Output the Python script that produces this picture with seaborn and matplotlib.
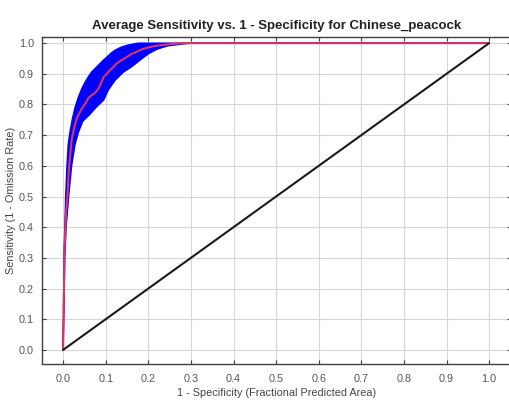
import numpy as np
import pandas as pd
import matplotlib
matplotlib.use("Agg")
import matplotlib.pyplot as plt
import seaborn as sns

# mean ROC curve (red)
mean_fpr = [0.0, 0.002, 0.003, 0.005, 0.007, 0.010, 0.014, 0.020, 0.026, 0.032,
            0.042, 0.052, 0.060, 0.067, 0.075, 0.083, 0.090, 0.095, 0.103, 0.110,
            0.118, 0.126, 0.138, 0.150, 0.161, 0.173, 0.185, 0.200, 0.216, 0.235,
            0.255, 0.270, 0.286, 1.0]
mean_sens = [0.0, 0.20, 0.315, 0.39, 0.45, 0.50, 0.597, 0.684, 0.725, 0.755,
             0.782, 0.803, 0.822, 0.830, 0.838, 0.852, 0.872, 0.890, 0.900, 0.912,
             0.922, 0.934, 0.945, 0.955, 0.965, 0.972, 0.980, 0.986, 0.991, 0.994,
             0.997, 0.999, 1.0, 1.0]

# upper / lower edges of the blue band (mean +/- sd)
upper_fpr = [0.0, 0.002, 0.004, 0.006, 0.009, 0.012, 0.016, 0.022, 0.028, 0.036,
             0.044, 0.052, 0.060, 0.067, 0.077, 0.087, 0.095, 0.103, 0.112, 0.122,
             0.135, 0.150, 0.176, 1.0]
upper_sens = [0.0, 0.30, 0.40, 0.50, 0.60, 0.67, 0.71, 0.755, 0.790, 0.825,
              0.852, 0.874, 0.892, 0.906, 0.920, 0.934, 0.945, 0.955, 0.967, 0.977,
              0.986, 0.993, 1.0, 1.0]
lower_fpr = [0.0, 0.004, 0.007, 0.013, 0.020, 0.028, 0.036, 0.046, 0.063, 0.079,
             0.095, 0.106, 0.122, 0.142, 0.161, 0.181, 0.200, 0.220, 0.245, 0.279,
             0.300, 1.0]
lower_sens = [0.0, 0.30, 0.40, 0.50, 0.60, 0.67, 0.71, 0.745, 0.768, 0.793,
              0.814, 0.847, 0.879, 0.906, 0.923, 0.945, 0.965, 0.980, 0.991, 0.997,
              1.0, 1.0]

# random prediction line
rand_fpr = [0.0, 1.0]
rand_sens = [0.0, 1.0]

ticks = [0.0, 0.1, 0.2, 0.3, 0.4, 0.5, 0.6, 0.7, 0.8, 0.9, 1.0]

sns.set_style("whitegrid")
plt.rcParams['font.family'] = ['Liberation Sans', 'DejaVu Sans']

fig = plt.figure(figsize=(5.09, 4.01), dpi=100)
ax = fig.add_axes([0.083, 0.0923, 0.921, 0.8154])

# blue band
band_x = np.concatenate([upper_fpr, lower_fpr[::-1]])
band_y = np.concatenate([upper_sens, lower_sens[::-1]])
ax.fill(band_x, band_y, color='#0000ff', lw=1.0, edgecolor='#0000ff', zorder=2)

mean_df = pd.DataFrame({'fpr': mean_fpr, 'sens': mean_sens})
rand_df = pd.DataFrame({'fpr': rand_fpr, 'sens': rand_sens})
sns.lineplot(data=mean_df, x='fpr', y='sens', sort=False, estimator=None,
             color='#dc3562', lw=1.5, ax=ax, zorder=3)
sns.lineplot(data=rand_df, x='fpr', y='sens', sort=False, estimator=None,
             color='#1a1a1a', lw=1.5, ax=ax, zorder=3)

ax.set_xlim(-0.049, 1.0515)
ax.set_ylim(-0.046, 1.02)
ax.set_xticks(ticks)
ax.set_yticks(ticks)
ax.set_xticklabels([f"{t:.1f}" for t in ticks])
ax.set_yticklabels([f"{t:.1f}" for t in ticks])
ax.grid(True, color='#d6d6d6', lw=0.8)
ax.tick_params(direction='in', length=3, width=0.8, color='#404040',
               labelsize=7.8, labelcolor='#555555', top=True, right=True,
               bottom=True, left=True, labeltop=False, labelright=False)
ax.tick_params(axis='x', pad=7)
ax.tick_params(axis='y', pad=6)
for s in ax.spines.values():
    s.set_visible(True)
    s.set_color('#404040')
    s.set_linewidth(1.0)

ax.set_xlabel("1 - Specificity (Fractional Predicted Area)", fontsize=7.8,
              color='#444444', labelpad=3)
ax.set_ylabel("Sensitivity (1 - Omission Rate)", fontsize=7.8,
              color='#444444')
ax.yaxis.set_label_coords(-0.056, 0.5)
ax.set_title("Average Sensitivity vs. 1 - Specificity for Chinese_peacock",
             fontsize=9.5, fontweight='bold', color='#222222', pad=6)

fig.savefig('out.png', dpi=100)
